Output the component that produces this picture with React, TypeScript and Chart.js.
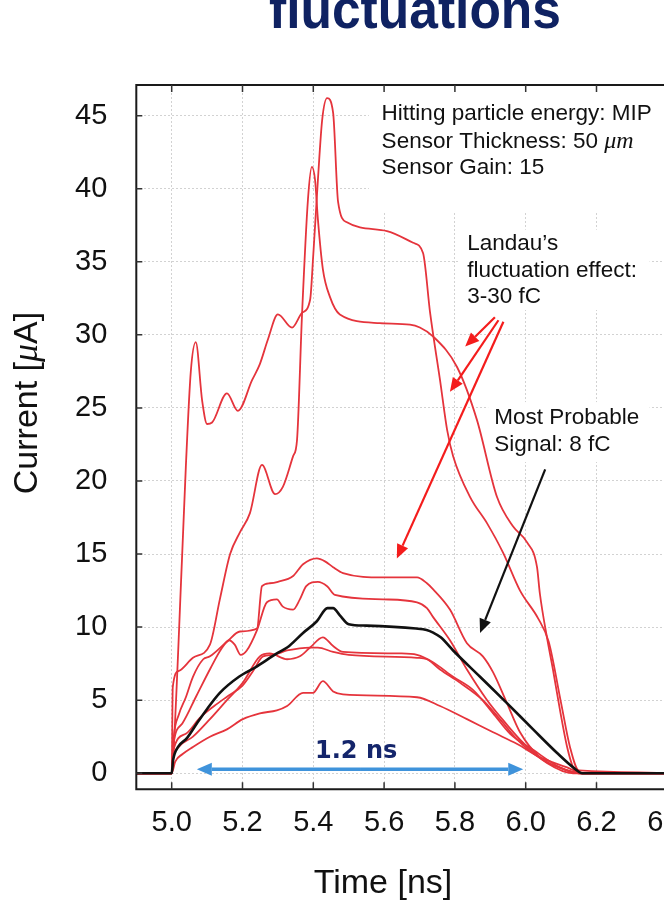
import React, { useEffect, useRef } from "react";
import { Chart, registerables } from "chart.js";

Chart.register(...registerables);

// ---------- axis ticks ----------
const xTicks = [5.0, 5.2, 5.4, 5.6, 5.8, 6.0, 6.2, 6.4];
const yTicks = [0, 5, 10, 15, 20, 25, 30, 35, 40, 45];

// ---------- series (time in ns, current in uA) ----------
// most probable signal (black)
const mpvTime = [4.9, 5.0, 5.004, 5.018, 5.043, 5.071, 5.1, 5.136, 5.19, 5.24, 5.297, 5.326, 5.371, 5.41, 5.44, 5.456, 5.475, 5.5, 5.55, 5.69, 5.72, 5.74, 5.76, 5.795, 5.871, 5.947, 6.021, 6.088, 6.134, 6.16, 6.6];
const mpvCurrent = [0, 0, 0.9, 1.8, 2.4, 3.4, 4.4, 5.5, 6.6, 7.3, 8.2, 8.6, 9.6, 10.4, 11.3, 11.3, 10.8, 10.2, 10.1, 9.9, 9.8, 9.6, 9.3, 8.4, 6.6, 4.8, 3.0, 1.4, 0.4, 0, 0];

// Landau fluctuation samples (red)
const bTime = [4.9, 5.0, 5.004, 5.029, 5.04, 5.054, 5.068, 5.086, 5.1, 5.114, 5.156, 5.187, 5.227, 5.249, 5.272, 5.3, 5.34, 5.368, 5.391, 5.4, 5.413, 5.425, 5.439, 5.456, 5.47, 5.495, 5.608, 5.682, 5.71, 5.73, 5.758, 5.778, 5.795, 5.843, 5.891, 5.936, 5.984, 6.035, 6.065, 6.1, 6.125, 6.15, 6.6];
const bCurrent = [0, 0, 1, 14.6, 21, 27.5, 29.5, 25.5, 23.9, 24.0, 26.0, 24.8, 26.9, 28, 29.7, 31.4, 30.5, 31.5, 32.4, 35.5, 40.6, 44.7, 46.2, 45.2, 39.1, 37.7, 37.1, 36.3, 35.6, 31.5, 26.9, 23.5, 21.7, 18.9, 17.1, 15.1, 12.5, 10.6, 9.0, 4.8, 1.8, 0.2, 0];

const cTime = [4.9, 5.0, 5.003, 5.02, 5.06, 5.108, 5.136, 5.165, 5.193, 5.221, 5.255, 5.292, 5.314, 5.343, 5.354, 5.368, 5.385, 5.396, 5.405, 5.413, 5.427, 5.447, 5.475, 5.588, 5.673, 5.701, 5.738, 5.806, 5.862, 5.919, 5.964, 6.004, 6.032, 6.04, 6.06, 6.077, 6.097, 6.117, 6.134, 6.15, 6.6];
const cCurrent = [0, 0, 5.9, 7.0, 7.9, 8.8, 11.9, 15.0, 16.5, 17.8, 21.1, 19.1, 19.6, 21.7, 22.8, 31.3, 39.3, 41.5, 40.6, 37.9, 34.5, 32.6, 31.4, 30.8, 30.7, 30.5, 29.9, 27.8, 24.2, 18.9, 16.9, 15.8, 14.1, 12.3, 9.3, 7.1, 4.3, 1.8, 0.4, 0, 0];

const e1Time = [4.9, 5.0, 5.006, 5.02, 5.04, 5.06, 5.089, 5.108, 5.156, 5.193, 5.241, 5.255, 5.277, 5.3, 5.343, 5.371, 5.41, 5.433, 5.456, 5.484, 5.597, 5.693, 5.721, 5.738, 5.786, 5.834, 5.879, 5.908, 5.947, 5.984, 6.04, 6.117, 6.16, 6.6];
const e1Current = [0, 0, 2.5, 4.0, 5.2, 6.6, 7.8, 8.0, 9.0, 9.7, 9.9, 12.8, 13.0, 13.1, 13.5, 14.3, 14.7, 14.5, 14.1, 13.7, 13.4, 13.4, 13.0, 12.6, 11.2, 8.9, 8.0, 6.9, 4.8, 2.8, 1.1, 0.2, 0, 0];

const e2Time = [4.9, 5.0, 5.005, 5.03, 5.07, 5.11, 5.14, 5.162, 5.178, 5.195, 5.212, 5.241, 5.269, 5.297, 5.314, 5.343, 5.362, 5.38, 5.413, 5.439, 5.461, 5.597, 5.693, 5.721, 5.738, 5.786, 5.834, 5.891, 5.927, 5.984, 6.06, 6.134, 6.6];
const e2Current = [0, 0, 2.0, 3.4, 5.3, 7.2, 8.5, 9.1, 8.8, 8.1, 8.4, 9.8, 11.7, 11.9, 11.4, 11.2, 11.9, 12.8, 13.1, 12.8, 12.2, 11.9, 11.7, 11.3, 10.7, 9.1, 7.1, 5.0, 3.9, 2.3, 0.7, 0, 0];

const f1Time = [4.9, 5.0, 5.004, 5.02, 5.06, 5.108, 5.156, 5.201, 5.249, 5.277, 5.326, 5.362, 5.391, 5.427, 5.456, 5.484, 5.645, 5.693, 5.738, 5.795, 5.851, 5.908, 5.956, 6.021, 6.097, 6.15, 6.6];
const f1Current = [0, 0, 1.0, 1.8, 2.5, 3.7, 5.0, 6.2, 8.0, 8.2, 7.8, 8.0, 8.6, 9.3, 8.7, 8.3, 8.2, 8.1, 7.6, 6.6, 5.7, 4.1, 2.7, 1.6, 0.4, 0, 0];

const f2Time = [4.9, 5.0, 5.004, 5.04, 5.08, 5.12, 5.16, 5.2, 5.23, 5.258, 5.286, 5.326, 5.391, 5.413, 5.456, 5.5, 5.693, 5.721, 5.758, 5.814, 5.879, 5.927, 5.976, 6.049, 6.117, 6.16, 6.6];
const f2Current = [0, 0, 1.5, 2.7, 3.8, 4.6, 5.3, 6.0, 7.0, 8.0, 8.1, 8.4, 8.6, 8.6, 8.3, 8.1, 7.9, 7.8, 7.1, 6.2, 5.0, 3.7, 2.3, 0.9, 0.2, 0, 0];

const gTime = [4.9, 5.0, 5.01, 5.03, 5.06, 5.108, 5.156, 5.201, 5.249, 5.297, 5.326, 5.371, 5.399, 5.427, 5.456, 5.484, 5.693, 5.758, 5.834, 5.908, 5.976, 6.04, 6.117, 6.16, 6.6];
const gCurrent = [0, 0, 0.8, 1.3, 1.8, 2.5, 3.0, 3.7, 4.1, 4.3, 4.6, 5.5, 5.5, 6.3, 5.6, 5.4, 5.2, 4.6, 3.7, 2.8, 2.0, 1.1, 0.4, 0, 0];

// ---------- styling / annotations ----------
const FONT = '"Liberation Sans", Arial, Helvetica, sans-serif';
const SERIF = '"Liberation Serif", "DejaVu Serif", serif';
const RED = "#e5343c";
const ARROW_RED = "#f41c1c";
const NAVY = "#14256b";

const X_MIN = 4.9;
const X_MAX = 6.55;
const Y_MIN = -1.1;
const Y_MAX = 47.1;

// arrows in data coordinates: [x0, y0, x1(tip), y1(tip)]
const redArrows = [
  [5.913, 31.2, 5.829, 29.2],
  [5.923, 31.0, 5.786, 26.1],
  [5.937, 30.9, 5.636, 14.7],
];
const blackArrow = [6.055, 20.8, 5.871, 9.6];
const spanArrow = [5.071, 0.27, 5.993, 0.27];

// white boxes behind text blocks: [x0, y0, x1, y1] in data coordinates
const whiteBoxes = [
  [5.557, 38.4, 6.55, 47.1],
  [5.814, 31.7, 6.35, 37.2],
  [5.894, 21.3, 6.35, 25.4],
];

const pts = (t: number[], v: number[]) => t.map((x, i) => ({ x, y: v[i] }));

function drawArrow(ctx: CanvasRenderingContext2D, x0: number, y0: number, x1: number, y1: number, color: string, lw: number, hl: number, hw: number) {
  const a = Math.atan2(y1 - y0, x1 - x0);
  const bx = x1 - hl * Math.cos(a);
  const by = y1 - hl * Math.sin(a);
  ctx.strokeStyle = color;
  ctx.fillStyle = color;
  ctx.lineWidth = lw;
  ctx.beginPath();
  ctx.moveTo(x0, y0);
  ctx.lineTo(bx, by);
  ctx.stroke();
  ctx.beginPath();
  ctx.moveTo(x1, y1);
  ctx.lineTo(bx + hw * Math.sin(a), by - hw * Math.cos(a));
  ctx.lineTo(bx - hw * Math.sin(a), by + hw * Math.cos(a));
  ctx.closePath();
  ctx.fill();
}

type Part = [string, string];
function drawParts(ctx: CanvasRenderingContext2D, parts: Part[], x: number, y: number, center: boolean) {
  let total = 0;
  for (const [t, f] of parts) {
    ctx.font = f;
    total += ctx.measureText(t).width;
  }
  let cx = center ? x - total / 2 : x;
  ctx.textAlign = "left";
  for (const [t, f] of parts) {
    ctx.font = f;
    ctx.fillText(t, cx, y);
    cx += ctx.measureText(t).width;
  }
}

const decorPlugin = {
  id: "decor",
  beforeDatasetsDraw(chart: any) {
    const { ctx, scales } = chart;
    const x = scales.x;
    const y = scales.y;
    ctx.save();
    ctx.fillStyle = "#ffffff";
    for (const [a, b, c, d] of whiteBoxes) {
      const px0 = x.getPixelForValue(a);
      const px1 = x.getPixelForValue(c);
      const py0 = y.getPixelForValue(b);
      const py1 = y.getPixelForValue(d);
      ctx.fillRect(px0, py1, px1 - px0, py0 - py1);
    }
    ctx.restore();
  },
  afterDatasetsDraw(chart: any) {
    const { ctx, scales, chartArea } = chart;
    const x = scales.x;
    const y = scales.y;
    const X = (v: number) => x.getPixelForValue(v);
    const Y = (v: number) => y.getPixelForValue(v);
    ctx.save();

    // frame
    ctx.strokeStyle = "#1a1a1a";
    ctx.lineWidth = 2;
    ctx.beginPath();
    ctx.moveTo(chartArea.right + 5, chartArea.top);
    ctx.lineTo(chartArea.left, chartArea.top);
    ctx.lineTo(chartArea.left, chartArea.bottom);
    ctx.lineTo(chartArea.right + 5, chartArea.bottom);
    ctx.stroke();

    // inward ticks
    ctx.strokeStyle = "#333";
    ctx.lineWidth = 1.5;
    ctx.beginPath();
    for (const v of yTicks) {
      const py = Y(v);
      ctx.moveTo(chartArea.left, py);
      ctx.lineTo(chartArea.left + 6, py);
    }
    for (const v of xTicks) {
      const px = X(v);
      ctx.moveTo(px, chartArea.bottom);
      ctx.lineTo(px, chartArea.bottom - 7);
      ctx.moveTo(px, chartArea.top);
      ctx.lineTo(px, chartArea.top + 7);
    }
    ctx.stroke();

    // arrows
    for (const [a, b, c, d] of redArrows) drawArrow(ctx, X(a), Y(b), X(c), Y(d), ARROW_RED, 2.2, 14, 6);
    drawArrow(ctx, X(blackArrow[0]), Y(blackArrow[1]), X(blackArrow[2]), Y(blackArrow[3]), "#111", 2.2, 14, 6);
    {
      const [a, b, c, d] = spanArrow;
      const mid = (a + c) / 2;
      drawArrow(ctx, X(mid), Y(b), X(c), Y(d), "#3f93db", 3.5, 15, 6.5);
      drawArrow(ctx, X(mid), Y(b), X(a), Y(d), "#3f93db", 3.5, 15, 6.5);
    }

    // annotation texts
    const f = `22.5px ${FONT}`;
    const mf = `italic 24px ${SERIF}`;
    ctx.fillStyle = "#111";
    ctx.textBaseline = "middle";
    drawParts(ctx, [["Hitting particle energy: MIP", f]], X(5.593), Y(45.1), false);
    drawParts(ctx, [["Sensor Thickness: 50 ", f], ["\u03bcm", mf]], X(5.593), Y(43.2), false);
    drawParts(ctx, [["Sensor Gain: 15", f]], X(5.593), Y(41.4), false);
    drawParts(ctx, [["Landau\u2019s", f]], X(5.835), Y(36.2), false);
    drawParts(ctx, [["fluctuation effect:", f]], X(5.835), Y(34.4), false);
    drawParts(ctx, [["3-30 fC", f]], X(5.835), Y(32.6), false);
    drawParts(ctx, [["Most Probable", f]], X(5.911), Y(24.3), false);
    drawParts(ctx, [["Signal: 8 fC", f]], X(5.911), Y(22.5), false);

    ctx.fillStyle = NAVY;
    drawParts(ctx, [["1.2 ns", `bold 24px "DejaVu Sans", Verdana, sans-serif`]], X(5.521), Y(1.5), true);

    // axis titles
    ctx.fillStyle = "#111";
    ctx.save();
    ctx.translate(28, 403);
    ctx.rotate(-Math.PI / 2);
    drawParts(ctx, [["Current [", `34px ${FONT}`], ["\u03bc", `italic 36px ${SERIF}`], ["A]", `34px ${FONT}`]], 0, 0, true);
    ctx.restore();
    drawParts(ctx, [["Time [ns]", `34px ${FONT}`]], 383, 884, true);

    // slide title (cut off at the top)
    ctx.textBaseline = "alphabetic";
    ctx.fillStyle = "#0f2262";
    ctx.save();
    ctx.translate(415, 27.5);
    ctx.scale(0.92, 1);
    drawParts(ctx, [["fluctuations", `bold 56px ${FONT}`]], 0, 0, true);
    ctx.restore();

    ctx.restore();
  },
};

export default function App() {
  const ref = useRef<HTMLCanvasElement>(null);
  useEffect(() => {
    const canvas = ref.current as HTMLCanvasElement;
    const red = (t: number[], v: number[], label: string) => ({
      label,
      data: pts(t, v),
      borderColor: RED,
      borderWidth: 1.8,
    });
    const chart = new Chart(canvas, {
      type: "line",
      data: {
        datasets: [
          { label: "Most probable signal 8 fC", data: pts(mpvTime, mpvCurrent), borderColor: "#111", borderWidth: 2.6 },
          red(bTime, bCurrent, "Landau B"),
          red(cTime, cCurrent, "Landau C"),
          red(e1Time, e1Current, "Landau E1"),
          red(e2Time, e2Current, "Landau E2"),
          red(f1Time, f1Current, "Landau F1"),
          red(f2Time, f2Current, "Landau F2"),
          red(gTime, gCurrent, "Landau G"),
        ],
      },
      options: {
        responsive: false,
        animation: false,
        layout: { padding: { left: 0, top: 85, right: 39.6, bottom: 0 } },
        plugins: { legend: { display: false }, tooltip: { enabled: false }, title: { display: false } },
        elements: {
          point: { radius: 0 },
          line: { cubicInterpolationMode: "monotone", borderJoinStyle: "round", fill: false },
        },
        scales: {
          x: {
            type: "linear",
            min: X_MIN,
            max: X_MAX,
            afterBuildTicks: (s: any) => {
              s.ticks = xTicks.map((v) => ({ value: v }));
            },
            afterFit: (s: any) => {
              s.height = 110.7;
            },
            grid: { color: "#d2d2d2", lineWidth: 1, drawTicks: false },
            border: { display: false, dash: [2, 2] },
            ticks: {
              autoSkip: false,
              maxRotation: 0,
              padding: 16,
              color: "#111",
              font: { family: FONT, size: 29 },
              callback: (v: any) => Number(v).toFixed(1),
            },
          },
          y: {
            type: "linear",
            min: Y_MIN,
            max: Y_MAX,
            afterBuildTicks: (s: any) => {
              s.ticks = yTicks.map((v) => ({ value: v }));
            },
            afterFit: (s: any) => {
              s.width = 136.3;
            },
            grid: { color: "#d2d2d2", lineWidth: 1, drawTicks: false },
            border: { display: false, dash: [2, 2] },
            ticks: {
              padding: 29,
              color: "#111",
              font: { family: FONT, size: 29 },
              callback: (v: any) => String(v),
            },
          },
        },
      } as any,
      plugins: [decorPlugin],
    });
    return () => chart.destroy();
  }, []);
  return (
    <div style={{ position: "absolute", left: 0, top: 0, width: 664, height: 900, overflow: "hidden", background: "#fff" }}>
      <canvas ref={ref} width={760} height={900} style={{ display: "block" }} />
    </div>
  );
}
